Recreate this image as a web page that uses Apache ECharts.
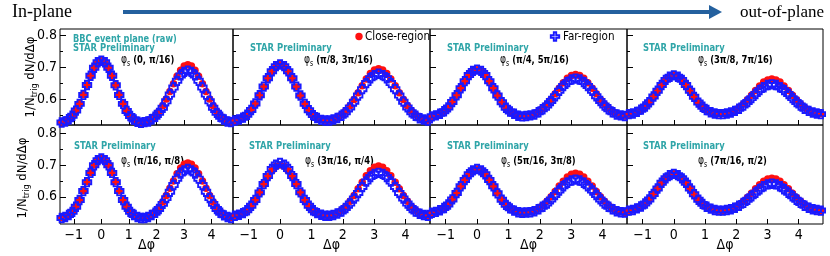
<!DOCTYPE html>
<html><head><meta charset="utf-8">
<script src="https://cdn.jsdelivr.net/npm/echarts@6/dist/echarts.min.js"></script>
<style>html,body{margin:0;padding:0;background:#fff}#c{width:830px;height:256px}</style>
</head><body><div id="c"></div>
<script>
// ---- data ----
const dphi = [-1.44,-1.31,-1.18,-1.05,-0.92,-0.79,-0.65,-0.52,-0.39,-0.26,-0.13,0,0.13,0.26,0.39,0.52,0.65,0.79,0.92,1.05,1.18,1.31,1.44,1.57,1.70,1.83,1.96,2.09,2.23,2.36,2.49,2.62,2.75,2.88,3.01,3.14,3.27,3.40,3.53,3.67,3.80,3.93,4.06,4.19,4.32,4.45,4.58,4.71];

const close1 = [0.529,0.532,0.539,0.549,0.565,0.587,0.615,0.645,0.674,0.699,0.716,0.722,0.716,0.699,0.674,0.645,0.615,0.587,0.565,0.549,0.539,0.532,0.529, 0.529,0.532,0.539,0.548,0.562,0.580,0.601,0.625,0.649,0.672,0.691,0.704,0.708,0.704,0.691,0.672,0.649,0.625,0.601,0.580,0.562,0.548,0.538,0.532,0.529];
const far1   = [0.528,0.531,0.538,0.549,0.565,0.586,0.614,0.645,0.674,0.699,0.716,0.721,0.716,0.699,0.674,0.644,0.614,0.586,0.564,0.548,0.537,0.530,0.527, 0.529,0.531,0.538,0.546,0.558,0.574,0.594,0.615,0.637,0.658,0.675,0.686,0.690,0.686,0.675,0.658,0.637,0.615,0.594,0.574,0.558,0.546,0.537,0.531,0.529];
const close2 = [0.535,0.538,0.543,0.552,0.567,0.586,0.612,0.639,0.665,0.687,0.703,0.708,0.703,0.687,0.665,0.639,0.612,0.586,0.567,0.552,0.543,0.538,0.535, 0.535,0.537,0.544,0.552,0.564,0.580,0.600,0.621,0.643,0.664,0.681,0.692,0.696,0.692,0.681,0.664,0.643,0.621,0.600,0.580,0.564,0.552,0.543,0.537,0.535];
const far2   = [0.534,0.537,0.543,0.552,0.567,0.587,0.613,0.640,0.666,0.688,0.704,0.709,0.704,0.688,0.666,0.640,0.612,0.586,0.566,0.551,0.542,0.536,0.534, 0.534,0.537,0.542,0.549,0.560,0.575,0.593,0.612,0.632,0.651,0.666,0.676,0.680,0.676,0.666,0.651,0.632,0.612,0.593,0.575,0.560,0.549,0.541,0.537,0.534];
const close3 = [0.548,0.550,0.556,0.563,0.575,0.592,0.613,0.635,0.657,0.676,0.688,0.693,0.688,0.676,0.657,0.635,0.613,0.592,0.575,0.563,0.556,0.550,0.548, 0.548,0.551,0.555,0.562,0.572,0.585,0.600,0.618,0.635,0.652,0.666,0.675,0.678,0.675,0.666,0.652,0.635,0.618,0.600,0.585,0.572,0.562,0.555,0.551,0.548];
const far3   = [0.547,0.550,0.555,0.563,0.575,0.592,0.613,0.635,0.657,0.676,0.689,0.693,0.689,0.676,0.657,0.635,0.612,0.591,0.574,0.562,0.555,0.549,0.547, 0.548,0.550,0.553,0.560,0.569,0.581,0.595,0.610,0.627,0.642,0.654,0.662,0.665,0.662,0.654,0.642,0.627,0.610,0.595,0.581,0.569,0.560,0.553,0.550,0.548];
const close4 = [0.555,0.557,0.561,0.568,0.578,0.591,0.609,0.627,0.645,0.661,0.671,0.675,0.671,0.661,0.645,0.627,0.609,0.591,0.578,0.568,0.561,0.557,0.555, 0.555,0.557,0.560,0.567,0.575,0.586,0.599,0.613,0.628,0.642,0.654,0.661,0.664,0.661,0.654,0.642,0.628,0.613,0.599,0.586,0.575,0.567,0.560,0.557,0.555];
const far4   = [0.554,0.556,0.561,0.568,0.578,0.591,0.609,0.627,0.645,0.661,0.671,0.675,0.671,0.661,0.645,0.627,0.608,0.590,0.577,0.567,0.560,0.556,0.554, 0.554,0.556,0.559,0.564,0.571,0.581,0.592,0.604,0.617,0.629,0.638,0.645,0.647,0.645,0.638,0.629,0.617,0.604,0.592,0.581,0.571,0.564,0.559,0.556,0.554];
const close5 = [0.535,0.538,0.544,0.554,0.570,0.591,0.619,0.647,0.676,0.700,0.716,0.722,0.716,0.700,0.676,0.647,0.619,0.591,0.570,0.554,0.544,0.538,0.535, 0.535,0.538,0.544,0.553,0.566,0.584,0.604,0.627,0.650,0.672,0.690,0.702,0.706,0.702,0.690,0.672,0.650,0.627,0.604,0.584,0.566,0.553,0.543,0.538,0.535];
const far5   = [0.534,0.537,0.543,0.553,0.569,0.590,0.618,0.646,0.675,0.699,0.715,0.720,0.715,0.699,0.675,0.646,0.618,0.590,0.569,0.553,0.543,0.537,0.534, 0.534,0.537,0.543,0.550,0.562,0.578,0.596,0.616,0.637,0.657,0.673,0.683,0.687,0.683,0.673,0.657,0.637,0.616,0.596,0.578,0.562,0.550,0.542,0.537,0.534];
const close6 = [0.541,0.544,0.549,0.558,0.572,0.590,0.614,0.640,0.664,0.682,0.696,0.700,0.696,0.682,0.664,0.640,0.614,0.590,0.572,0.558,0.549,0.544,0.541, 0.541,0.544,0.550,0.558,0.569,0.586,0.604,0.625,0.646,0.666,0.682,0.693,0.697,0.693,0.682,0.666,0.646,0.625,0.604,0.586,0.569,0.558,0.549,0.544,0.541];
const far6   = [0.541,0.544,0.549,0.558,0.572,0.590,0.614,0.640,0.665,0.687,0.701,0.706,0.701,0.687,0.665,0.640,0.614,0.590,0.572,0.558,0.549,0.544,0.541, 0.541,0.543,0.548,0.554,0.565,0.579,0.595,0.612,0.631,0.648,0.662,0.672,0.675,0.672,0.662,0.648,0.631,0.612,0.595,0.579,0.565,0.554,0.547,0.543,0.541];
const close7 = [0.551,0.553,0.558,0.565,0.576,0.592,0.612,0.633,0.653,0.671,0.683,0.687,0.683,0.671,0.653,0.633,0.612,0.592,0.576,0.565,0.558,0.553,0.551, 0.551,0.553,0.557,0.564,0.573,0.586,0.600,0.617,0.634,0.649,0.662,0.671,0.674,0.671,0.662,0.649,0.634,0.617,0.600,0.586,0.573,0.564,0.557,0.553,0.551];
const far7   = [0.550,0.553,0.558,0.565,0.576,0.592,0.612,0.633,0.653,0.671,0.683,0.687,0.683,0.671,0.653,0.633,0.611,0.591,0.575,0.564,0.557,0.552,0.550, 0.551,0.552,0.555,0.561,0.569,0.579,0.592,0.606,0.620,0.633,0.644,0.651,0.654,0.651,0.644,0.633,0.620,0.606,0.592,0.579,0.569,0.561,0.555,0.552,0.551];
const close8 = [0.558,0.560,0.564,0.570,0.579,0.592,0.609,0.626,0.644,0.658,0.668,0.672,0.668,0.658,0.644,0.626,0.609,0.592,0.579,0.570,0.564,0.560,0.558, 0.557,0.560,0.563,0.568,0.576,0.586,0.598,0.611,0.625,0.638,0.649,0.656,0.658,0.656,0.649,0.638,0.625,0.611,0.598,0.586,0.576,0.568,0.563,0.560,0.557];
const far8   = [0.557,0.559,0.564,0.570,0.579,0.592,0.609,0.626,0.644,0.658,0.668,0.672,0.668,0.658,0.644,0.626,0.608,0.591,0.578,0.569,0.563,0.559,0.557, 0.557,0.559,0.561,0.566,0.572,0.581,0.591,0.602,0.613,0.624,0.633,0.639,0.641,0.639,0.633,0.624,0.613,0.602,0.591,0.581,0.572,0.566,0.561,0.559,0.557];

const closeSets = [close1,close2,close3,close4,close5,close6,close7,close8];
const farSets   = [far1,far2,far3,far4,far5,far6,far7,far8];
const phiRanges = ['(0, π/16)','(π/8, 3π/16)','(π/4, 5π/16)','(3π/8, 7π/16)','(π/16, π/8)','(3π/16, π/4)','(5π/16, 3π/8)','(7π/16, π/2)'];
const xTickValues = [-1,0,1,2,3,4];
const xTickLabels = ['−1','0','1','2','3','4'];
const yMajorValues = [0.6,0.7,0.8];
const yMajorLabels = ['0.6','0.7','0.8'];
const yMinorValues = [0.55,0.65,0.75];
const xRange = [-1.5, 4.78];
const yRangeRow = [[0.52,0.82],[0.515,0.825]];
const seriesNames = ['Close-region','Far-region'];

// ---- layout / style ----
const SANS = "'Liberation Sans Narrow','DejaVu Sans Condensed','Arial Narrow','Liberation Sans',sans-serif";
const SERIF = "'Liberation Serif','DejaVu Serif',serif";
const TEAL = '#2fa5a8';
const RED = '#ff1010';
const BLUE = '#1a1aff';
const cols = [[60,173],[233,197],[430,197],[627,196]];
const rows = [[29,96],[125,99]];
const CROSS = 'path://M2.6,0 L7.4,0 L7.4,2.6 L10,2.6 L10,7.4 L7.4,7.4 L7.4,10 L2.6,10 L2.6,7.4 L0,7.4 L0,2.6 L2.6,2.6 Z';

function findLbl(vals, lbls, v){ const i = vals.findIndex(t=>Math.abs(t-v)<1e-6); return i>=0?lbls[i]:''; }

const grid=[], xAxis=[], yAxis=[], series=[];
for (let p=0;p<8;p++){
  const r = Math.floor(p/4), c = p%4;
  grid.push({left:cols[c][0], width:cols[c][1], top:rows[r][0], height:rows[r][1], show:true, borderColor:'#000', borderWidth:1, backgroundColor:'rgba(0,0,0,0)'});
  xAxis.push({type:'value', gridIndex:p, position:'bottom', min:xRange[0], max:xRange[1], axisLine:{show:false, onZero:false}, splitLine:{show:false},
    axisTick:{show:true, inside:true, length:5, lineStyle:{color:'#000'}, customValues:xTickValues},
    axisLabel:{show:r===1, customValues:xTickValues, formatter:v=>findLbl(xTickValues,xTickLabels,v), fontFamily:SANS, fontSize:14, color:'#000', margin:4}});
  yAxis.push({type:'value', gridIndex:p, position:'left', min:yRangeRow[r][0], max:yRangeRow[r][1], axisLine:{show:false, onZero:false}, splitLine:{show:false},
    axisTick:{show:true, inside:true, length:6, lineStyle:{color:'#000'}, customValues:yMajorValues},
    axisLabel:{show:c===0, customValues:yMajorValues, formatter:v=>findLbl(yMajorValues,yMajorLabels,v), fontFamily:SANS, fontSize:14, color:'#000', margin:3}});
  yAxis.push({type:'value', gridIndex:p, position:'left', min:yRangeRow[r][0], max:yRangeRow[r][1], axisLine:{show:false, onZero:false}, splitLine:{show:false},
    axisTick:{show:true, inside:true, length:3, lineStyle:{color:'#000'}, customValues:yMinorValues},
    axisLabel:{show:false}});
  series.push({name:seriesNames[0], type:'scatter', xAxisIndex:p, yAxisIndex:2*p, silent:true,
    data:dphi.map((x,j)=>[x, closeSets[p][j]]), symbol:'circle', symbolSize:7.5, itemStyle:{color:RED, opacity:1}});
  series.push({name:seriesNames[1], type:'scatter', xAxisIndex:p, yAxisIndex:2*p, silent:true,
    data:dphi.map((x,j)=>[x, farSets[p][j]]), symbol:CROSS, symbolSize:8.5,
    itemStyle:{color:'rgba(0,0,0,0)', borderColor:BLUE, borderWidth:1.9, opacity:1}});
}

function T(x,y,text,font,fill,align,sx){
  return {type:'text', x, y, scaleX:sx||1, silent:true, style:{text, font, fill, align:align||'left', textAlign:align||'left', verticalAlign:'middle', textVerticalAlign:'middle'}};
}
const g = [];
// header
g.push(T(12,12,'In-plane',"18px "+SERIF,'#000'));
g.push(T(740,13,'out-of-plane',"17px "+SERIF,'#000'));
g.push({type:'line', silent:true, shape:{x1:123,y1:12,x2:712,y2:12}, style:{stroke:'#24609e', lineWidth:4}});
g.push({type:'polygon', silent:true, shape:{points:[[709,5],[722,12],[709,19]]}, style:{fill:'#24609e'}});
// y titles
const yTitleRich = {
  a:{fontSize:13, fontFamily:SANS, lineHeight:16, fill:'#000', color:'#000'},
  b:{fontSize:9, fontFamily:SANS, lineHeight:7, verticalAlign:'bottom', fill:'#000', color:'#000'}
};
[[31,77],[23,178]].forEach(([x,y])=>{
  g.push({type:'text', x, y, rotation:Math.PI/2, silent:true,
    style:{text:'{a|1/N}{b|trig}{a| dN/dΔφ}', rich:yTitleRich, align:'center', textAlign:'center', verticalAlign:'middle', textVerticalAlign:'middle'}});
});
// x titles
cols.forEach(([l,w])=>{ g.push(T(l+w/2,245,'Δφ',"14px "+SANS,'#000','center')); });
// panel annotations
const starPos = [[73,48.5],[250,48.5],[447,48.5],[643,48.5],[74,146.5],[249,146.5],[447,146.5],[643,146.5]];
const phiPos  = [[121,60],[304,60],[500,60],[698,60],[121,161],[305,161],[501,161],[698,161]];
g.push(T(73,39.5,'BBC event plane (raw)',"bold 11px "+SANS,TEAL,'left',0.83));
const phiRich = {
  p:{fontSize:12, fontFamily:SANS, lineHeight:16, fill:'#000', color:'#000'},
  s:{fontSize:8, fontFamily:SANS, lineHeight:6, verticalAlign:'bottom', fill:'#000', color:'#000'},
  t:{fontSize:11, fontWeight:'bold', fontFamily:SANS, lineHeight:16, fill:'#000', color:'#000'}
};
for (let p=0;p<8;p++){
  g.push(T(starPos[p][0],starPos[p][1],'STAR Preliminary',"bold 11px "+SANS,TEAL,'left',0.85));
  g.push({type:'text', x:phiPos[p][0], y:phiPos[p][1], scaleX:0.85, silent:true,
    style:{text:'{p|φ}{s|s}{t| '+phiRanges[p]+'}', rich:phiRich, align:'left', textAlign:'left', verticalAlign:'middle', textVerticalAlign:'middle'}});
}
// legend
g.push({type:'circle', silent:true, shape:{cx:359,cy:36.5,r:3.7}, style:{fill:RED}});
g.push(T(365,36.5,seriesNames[0],"13px "+SANS,'#000','left',0.89));
(function(){
  const cx=555, cy=36.5, h=4.2, a=1.2;
  const pts=[[cx-a,cy-h],[cx+a,cy-h],[cx+a,cy-a],[cx+h,cy-a],[cx+h,cy+a],[cx+a,cy+a],[cx+a,cy+h],[cx-a,cy+h],[cx-a,cy+a],[cx-h,cy+a],[cx-h,cy-a],[cx-a,cy-a]];
  g.push({type:'polygon', silent:true, shape:{points:pts}, style:{fill:'rgba(0,0,0,0)', stroke:BLUE, lineWidth:1.9}});
})();
g.push(T(563,36.5,seriesNames[1],"13px "+SANS,'#000','left',0.89));

const chart = echarts.init(document.getElementById('c'), null, {renderer:'canvas', width:830, height:256});
chart.setOption({animation:false, backgroundColor:'#fff', grid, xAxis, yAxis, series, graphic:{elements:g}});
</script>
</body></html>
